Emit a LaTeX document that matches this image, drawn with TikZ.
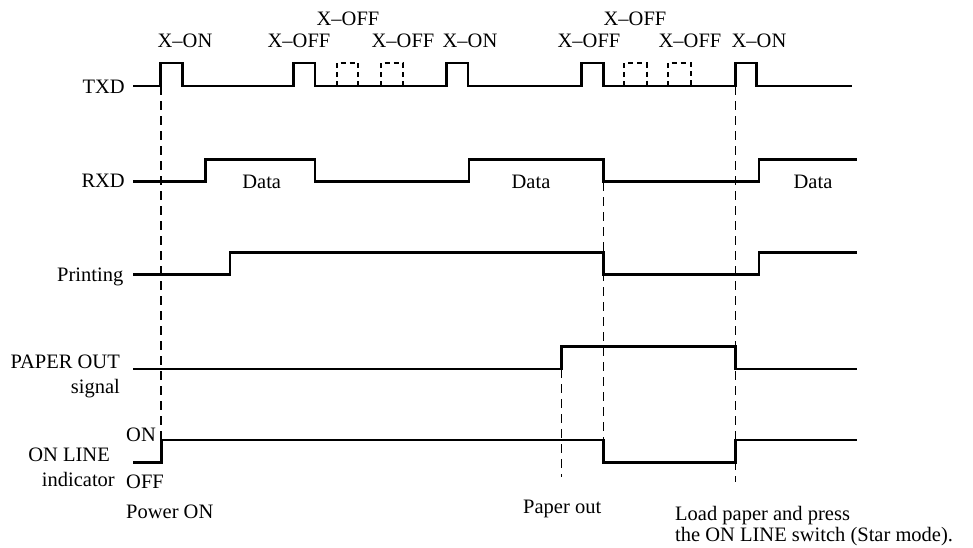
\documentclass[tikz,border=0pt]{standalone}
\usepackage{fontspec}
\setmainfont{Liberation Serif}
\usetikzlibrary{positioning}
\tikzset{
  sigline/.style={line width=2.6pt,line join=miter},
  guideline/.style={line width=1.1pt,dash pattern=on 9pt off 6pt},
  ghostpulse/.style={line width=2pt,dash pattern=on 5pt off 4pt},
  siglbl/.style={font=\fontsize{20.5}{21}\selectfont,inner sep=0pt}
}

\begin{document}
\begin{tikzpicture}[x=1pt,y=-1pt]
\useasboundingbox (0,0) rectangle (973,547);
% signal names
\node[siglbl,anchor=base east] (txd) at (125,93.3) {TXD};
\node[siglbl,anchor=base east] (rxd) at (125,187) {RXD};
\node[siglbl,anchor=base east] (prn) at (123.5,281.5) {Printing};
\node[siglbl,anchor=base east] (pout) at (120,368.3) {PAPER OUT};
\node[siglbl,anchor=base east] (psig) at (120,393) {signal};
\node[siglbl,anchor=base east] (onl) at (110,461.7) {ON LINE};
\node[siglbl,anchor=base east] (ind) at (115,486.7) {indicator};
\node[siglbl,anchor=base west] (lvon) at (126,441.7) {ON};
\node[siglbl,anchor=base west] (lvoff) at (126,488) {OFF};
% TXD codes
\node[siglbl,anchor=base] (xon1) at (185,47.7) {X--ON};
\node[siglbl,anchor=base] (xoff1) at (299,47.7) {X--OFF};
\node[siglbl,anchor=base] (xoff2) at (348,25) {X--OFF};
\node[siglbl,anchor=base] (xoff3) at (403,47.7) {X--OFF};
\node[siglbl,anchor=base] (xon2) at (470,47.7) {X--ON};
\node[siglbl,anchor=base] (xoff4) at (589,47.7) {X--OFF};
\node[siglbl,anchor=base] (xoff5) at (635,25) {X--OFF};
\node[siglbl,anchor=base] (xoff6) at (690,47.7) {X--OFF};
\node[siglbl,anchor=base] (xon3) at (759,47.7) {X--ON};
% data
\node[siglbl,anchor=base] (data1) at (261.7,188.5) {Data};
\node[siglbl,anchor=base] (data2) at (531,188.5) {Data};
\node[siglbl,anchor=base] (data3) at (813,188.5) {Data};
% events
\node[siglbl,anchor=base west] (pwron) at (126,518) {Power ON};
\node[siglbl,anchor=base west] (pout2) at (523,513) {Paper out};
\node[siglbl,anchor=base west,align=left] (load) at (675,541) {Load paper and press\\the ON LINE switch (Star mode).};

% waveforms
\draw[sigline] (133,86) -| (160.7,63) -| (182.7,86) -| (293.3,63) -| (315,86)
  -| (446.7,63) -| (468,86) -| (581.7,63) -| (603.3,86) -| (735.7,63) -| (756.7,86) -- (852.3,86);
\foreach \xa/\xb in {336.7/358.3,380.7/402.7,624.3/646.7,667.7/690.7}
  \draw[ghostpulse] (\xa,86) |- (\xb,63) -- (\xb,86);
\draw[sigline] (133,181.7) -| (205.7,159.3) -| (315,181.7) -| (469,159.3)
  -| (603.3,181.7) -| (759,159.3) -- (856.7,159.3);
\draw[sigline] (133,274.3) -| (230,252.7) -| (603.3,274.3) -| (759,252.7) -- (856.7,252.7);
\draw[sigline] (133,369) -| (561.7,346.7) -| (735.7,369) -- (856.7,369);
\draw[sigline] (133,462.3) -| (161.7,440) -| (603.3,462.3) -| (735.7,440) -- (856.7,440);

% guide lines
\coordinate (g1a) at (161,86);    \coordinate (g1b) at (161,440);
\coordinate (g2a) at (603.3,182); \coordinate (g2b) at (603.3,440);
\coordinate (g3a) at (561.7,369); \coordinate (g3b) at (561.7,477);
\coordinate (g4a) at (735.7,86);  \coordinate (g4b) at (735.7,482);
\draw[guideline] (g1a) -- (g1b);
\draw[guideline] (g2a) -- (g2b);
\draw[guideline] (g3a) -- (g3b);
\draw[guideline] (g4a) -- (g4b);
\end{tikzpicture}
\end{document}
